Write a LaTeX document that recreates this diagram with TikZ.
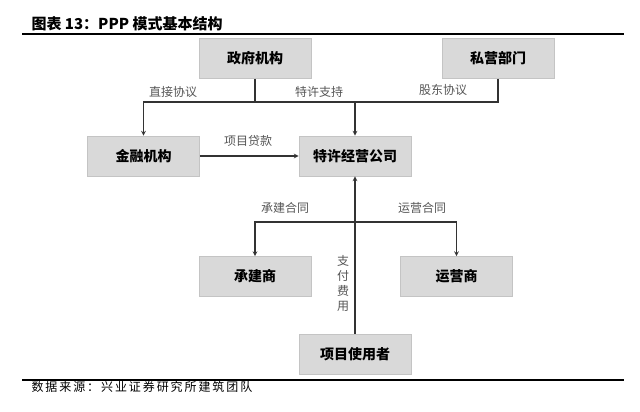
\documentclass[tikz,border=0pt]{standalone}
\usepackage{fontspec}
\setmainfont{Noto Sans CJK SC}
\usepackage{tikz}
\definecolor{boxfill}{HTML}{D9D9D9}
\definecolor{boxline}{HTML}{C4C4C4}
\definecolor{labgray}{HTML}{555555}
\begin{document}
\begin{tikzpicture}[x=1pt,y=-1pt,line width=1.0pt,>=stealth,
 box/.style={draw=boxline,fill=boxfill,line width=0.8pt,minimum width=112pt,minimum height=40pt,inner sep=0pt,font=\fontsize{14}{16}\selectfont\bfseries},
 lab/.style={text=labgray,inner sep=0pt,font=\fontsize{12}{15}\selectfont},
 wire/.style={draw=black!80,line width=1.1pt}]
\useasboundingbox (0,0) rectangle (640,412);
\node[anchor=west,inner sep=0pt,font=\fontsize{15}{17}\selectfont\bfseries] (title) at (31,24) {图表 13：PPP 模式基本结构};
\node[anchor=west,inner sep=0pt,font=\fontsize{12}{14}\selectfont\addfontfeature{LetterSpace=16}] (src) at (31,387) {数据来源：兴业证券研究所建筑团队};
\coordinate (tl) at (22,34); \coordinate (tr) at (624,34);
\coordinate (bl) at (22,380); \coordinate (br) at (624,380);
\draw[line width=1.2pt] (tl) -- (tr);
\draw[line width=1.2pt] (bl) -- (br);
\node[box] (gov) at (255,58.5) {政府机构};
\node[box] (priv) at (498,58.5) {私营部门};
\node[box] (fin) at (143.5,156) {金融机构};
\node[box] (spv) at (355,156) {特许经营公司};
\node[box] (build) at (255,276.5) {承建商};
\node[box] (oper) at (456.5,276.5) {运营商};
\node[box] (user) at (355,354) {项目使用者};
\coordinate (bus1) at (0,102); \coordinate (bus2) at (0,222);
\draw[wire,->] (gov.south) -- (gov.south |- bus1) -| (fin.north);
\draw[wire] (priv.south) |- (gov.south |- bus1);
\draw[wire,->] (spv.north |- bus1) -- (spv.north);
\draw[wire,->] (fin.east) -- (spv.west);
\draw[wire,->] (user.north) -- (spv.south);
\draw[wire,->] (spv.south |- bus2) -| (build.north);
\draw[wire,->] (spv.south |- bus2) -| (oper.north);
\node[lab] (l1) at (173,92) {直接协议};
\node[lab] (l2) at (319,92) {特许支持};
\node[lab] (l3) at (443,90) {股东协议};
\node[lab] (l4) at (248,141) {项目贷款};
\node[lab] (l5) at (285,208) {承建合同};
\node[lab] (l6) at (422,208) {运营合同};
\node[lab,align=center] (l7) at (343,283) {支\\付\\费\\用};
\end{tikzpicture}
\end{document}
